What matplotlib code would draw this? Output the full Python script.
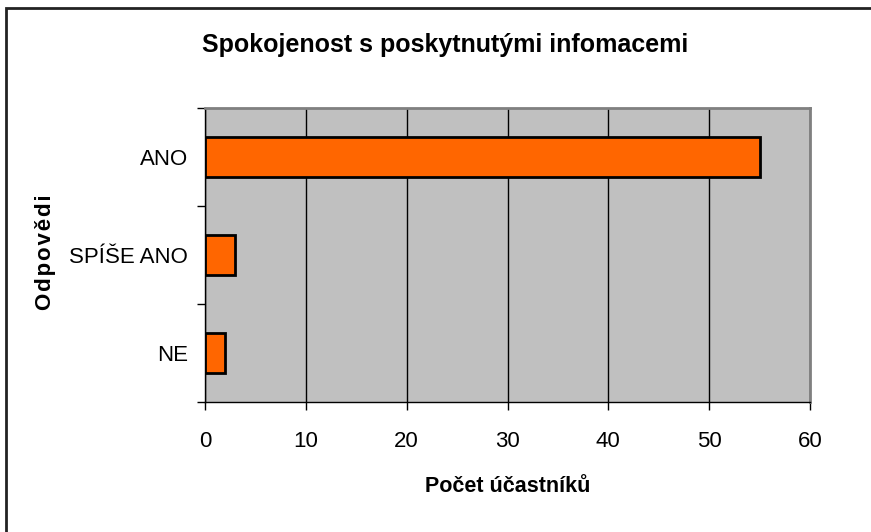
import matplotlib.pyplot as plt
from matplotlib.patches import Rectangle

categories = ['NE', 'SPÍŠE ANO', 'ANO']
values = [2, 3, 55]
xticks = [0, 10, 20, 30, 40, 50, 60]

plt.rcParams['font.family'] = ['Liberation Sans', 'DejaVu Sans']

W, H = 871, 532
fig = plt.figure(figsize=(W / 100, H / 100), dpi=100)
ax = fig.add_axes([205 / W, 1 - 402 / H, (810 - 205) / W, (402 - 108) / H])

ax.set_facecolor('#C0C0C0')
ax.barh(range(len(categories)), values, height=0.4, color='#FF6600',
        edgecolor='black', linewidth=2, zorder=3)

ax.set_xlim(0, 60)
ax.set_ylim(-0.5, len(categories) - 0.5)
ax.set_xticks(xticks)
ax.set_xticklabels([str(v) for v in xticks], fontsize=16)
ax.set_yticks(range(len(categories)))
ax.set_yticklabels(categories, fontsize=16)
ax.tick_params(axis='y', length=0, pad=12)
ax.tick_params(axis='x', length=6, width=1, pad=15)
# ticks between categories
ax.set_yticks([-0.5, 0.5, 1.5, 2.5], minor=True)
ax.tick_params(axis='y', which='minor', length=6, width=1)

ax.grid(axis='x', color='black', linewidth=1, zorder=1)
ax.set_axisbelow(True)
for s in ['top', 'right']:
    ax.spines[s].set_color('#808080')
    ax.spines[s].set_linewidth(2)
for s in ['left', 'bottom']:
    ax.spines[s].set_color('black')
    ax.spines[s].set_linewidth(1)

fig.text(445 / W, 1 - 45 / H, 'Spokojenost s poskytnutými infomacemi',
         fontsize=18, fontweight='bold', ha='center', va='center')
fig.text(508 / W, 1 - 486 / H, 'Počet účastníků', fontsize=15.5,
         fontweight='bold', ha='center', va='center')
fig.text(45 / W, 1 - 252 / H, 'O d p o v ě d i'.replace(' ', '\u200a'),
         fontsize=16, fontweight='bold', rotation=90, ha='center', va='center')

fig.patches.append(Rectangle((6 / W, -0.1), 1.2, 1 - 8 / H + 0.1,
                             transform=fig.transFigure, fill=False,
                             edgecolor='#222222', linewidth=2))

fig.savefig('out.png', dpi=100)
